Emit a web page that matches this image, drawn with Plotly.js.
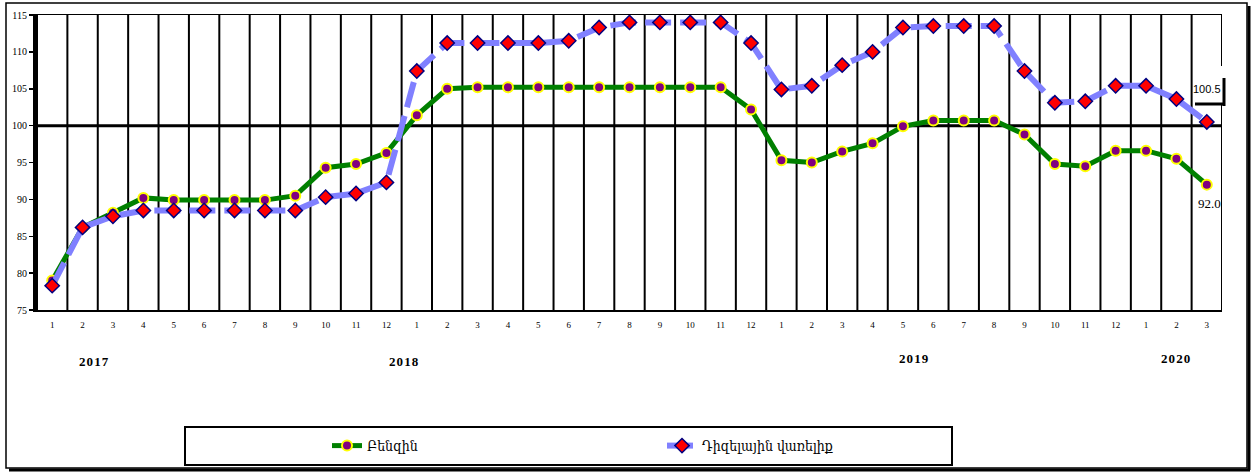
<!DOCTYPE html>
<html>
<head>
<meta charset="utf-8">
<script src="https://cdn.plot.ly/plotly-3.0.1.min.js"></script>
<style>html,body{margin:0;padding:0;background:#fff;}#chart{width:1252px;height:474px;}</style>
</head>
<body>
<div id="chart"></div>
<script>
const months = ['1','2','3','4','5','6','7','8','9','10','11','12',
                '1','2','3','4','5','6','7','8','9','10','11','12',
                '1','2','3','4','5','6','7','8','9','10','11','12',
                '1','2','3'];
const years = ['2017','2018','2019','2020'];
const petrol = [79.0, 86.2, 88.2, 90.2, 89.9, 89.9, 89.9, 89.9, 90.5, 94.3, 94.8, 96.3,
                101.4, 105.0, 105.2, 105.2, 105.2, 105.2, 105.2, 105.2, 105.2, 105.2, 105.2, 102.2,
                95.3, 95.0, 96.5, 97.6, 99.9, 100.7, 100.7, 100.7, 98.8, 94.8, 94.5, 96.6,
                96.6, 95.5, 92.0];
const diesel = [78.3, 86.2, 87.7, 88.5, 88.5, 88.5, 88.5, 88.5, 88.5, 90.3, 90.8, 92.3,
                107.4, 111.2, 111.2, 111.2, 111.2, 111.5, 113.3, 114.0, 114.0, 114.0, 114.0, 111.2,
                104.9, 105.4, 108.2, 110.0, 113.3, 113.5, 113.5, 113.5, 107.4, 103.1, 103.3, 105.4,
                105.4, 103.6, 100.5];
const seriesNames = ['Բենզին', 'Դիզելային վառելիք'];

const idx = months.map((m, i) => i);
const W = 1252, H = 474;
const mL = 37, mR = 30, mT = 15, mB = 164;
const pw = W - mL - mR, ph = H - mT - mB;
const px = x => (x - mL) / pw;
const py = y => (H - mB - y) / ph;

const traces = [
  {
    x: idx, y: petrol, name: seriesNames[0], type: 'scatter', mode: 'lines+markers',
    line: {color: '#008000', width: 5},
    marker: {symbol: 'circle', size: 10, color: '#800080', line: {color: '#ffff00', width: 2}},
    cliponaxis: false
  },
  {
    x: idx, y: diesel, name: seriesNames[1], type: 'scatter', mode: 'lines+markers',
    line: {color: '#8080ff', width: 6, dash: '26px,9px'},
    marker: {symbol: 'diamond', size: 11, color: '#ff0000', line: {color: '#000080', width: 1.5}},
    cliponaxis: false
  }
];

const shapes = [];
for (let i = 0; i <= months.length; i++) {
  shapes.push({type: 'line', xref: 'x', yref: 'paper', x0: i - 0.5, x1: i - 0.5, y0: 0, y1: 1,
    line: {color: '#000', width: 2}, layer: 'below'});
}
shapes.push({type: 'line', xref: 'paper', yref: 'y', x0: 0, x1: 1, y0: 100, y1: 100,
  line: {color: '#000', width: 3}, layer: 'below'});
// outer frame and shadow
shapes.push({type: 'rect', xref: 'paper', yref: 'paper', x0: px(6), x1: px(1247), y0: py(468), y1: py(3),
  line: {color: '#000', width: 1.5}});
shapes.push({type: 'line', xref: 'paper', yref: 'paper', x0: px(9), x1: px(1250), y0: py(470), y1: py(470),
  line: {color: '#000', width: 3}});
shapes.push({type: 'line', xref: 'paper', yref: 'paper', x0: px(1249), x1: px(1249), y0: py(6), y1: py(470),
  line: {color: '#000', width: 3}});
// legend box
shapes.push({type: 'rect', xref: 'paper', yref: 'paper', x0: px(185), x1: px(952), y0: py(465), y1: py(427),
  line: {color: '#000', width: 2}});
// 100.5 label box
shapes.push({type: 'rect', xref: 'paper', yref: 'paper', x0: px(1195), x1: px(1224), y0: py(104), y1: py(66),
  line: {width: 0}, fillcolor: '#fff', layer: 'below'});
shapes.push({type: 'line', xref: 'paper', yref: 'paper', x0: px(1224), x1: px(1224), y0: py(106), y1: py(78),
  line: {color: '#000', width: 3}});
shapes.push({type: 'line', xref: 'paper', yref: 'paper', x0: px(1195), x1: px(1225), y0: py(104), y1: py(104),
  line: {color: '#000', width: 3}});

const yearX = [94, 404, 914, 1175];
const yearY = [361, 361, 358, 358];
const annotations = years.map((t, i) => ({
  text: '<b>' + t.split('').join('\u200A') + '</b>', xref: 'paper', yref: 'paper',
  x: px(yearX[i]), y: py(yearY[i]), showarrow: false, xanchor: 'center', yanchor: 'middle',
  font: {family: 'Liberation Serif', size: 13, color: '#000'}
}));
const last = months.length - 1;
annotations.push({text: petrol[last].toFixed(1), xref: 'x', yref: 'y', x: last, y: petrol[last],
  yshift: -19, xshift: 3, showarrow: false, font: {family: 'Liberation Serif', size: 13, color: '#000'}});
annotations.push({text: diesel[last].toFixed(1), xref: 'x', yref: 'y', x: last, y: diesel[last],
  yshift: 33, xshift: 0, showarrow: false, font: {family: 'Liberation Sans', size: 11, color: '#000'}});

const layout = {
  width: W, height: H,
  margin: {l: mL, r: mR, t: mT, b: mB, pad: 0},
  paper_bgcolor: '#fff', plot_bgcolor: '#fff',
  showlegend: true,
  legend: {orientation: 'h', x: px(327), y: py(446), xanchor: 'left', yanchor: 'middle',
    entrywidth: 290, entrywidthmode: 'pixels', bgcolor: 'rgba(0,0,0,0)', borderwidth: 0,
    font: {family: 'DejaVu Serif Condensed, DejaVu Serif', size: 14, color: '#000'}},
  xaxis: {
    range: [-0.5, months.length - 0.5], tickmode: 'array', tickvals: idx, ticktext: months,
    showgrid: false, zeroline: false, showline: true, linecolor: '#000', linewidth: 1.5, mirror: true,
    ticks: '', ticklabelstandoff: 6,
    tickfont: {family: 'Liberation Serif', size: 9, color: '#000'}
  },
  yaxis: {
    range: [75, 115], dtick: 5, tick0: 75, showgrid: false, zeroline: false,
    showline: true, linecolor: '#000', linewidth: 4, ticks: 'outside', ticklen: 4, tickwidth: 1.5, tickcolor: '#000',
    tickfont: {family: 'Liberation Serif', size: 10, color: '#000'}
  },
  shapes: shapes,
  annotations: annotations
};

Plotly.newPlot('chart', traces, layout, {displayModeBar: false, staticPlot: true});
</script>
</body>
</html>
